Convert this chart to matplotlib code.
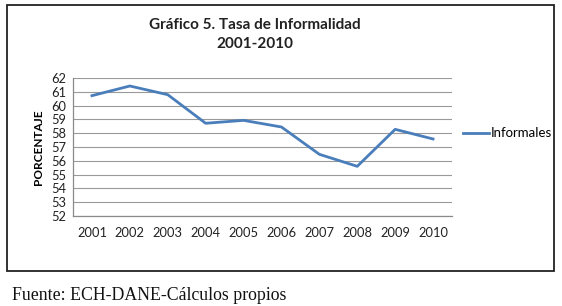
import matplotlib
matplotlib.use("Agg")
import matplotlib.pyplot as plt
from matplotlib.patches import Rectangle

years = ["2001", "2002", "2003", "2004", "2005", "2006", "2007", "2008", "2009", "2010"]
informales = [60.72, 61.42, 60.79, 58.72, 58.93, 58.45, 56.47, 55.60, 58.28, 57.58]
yticks = list(range(52, 63))

W, H = 562, 306
fig = plt.figure(figsize=(W / 100, H / 100), dpi=100)
fig.patch.set_facecolor("white")

# outer frame
fig.add_artist(Rectangle((7 / W, 1 - 271 / H), (554 - 7) / W, (271 - 5) / H,
                         transform=fig.transFigure, fill=False, edgecolor="#222222", lw=1.3))

ax = fig.add_axes([73 / W, 1 - 216 / H, (452 - 73) / W, (216 - 78) / H])
x = list(range(len(years)))
ax.plot(x, informales, color="#4a7ebb", lw=2.0, label="Informales")
ax.set_xlim(-0.5, len(years) - 0.5)
ax.set_ylim(52, 62)
ax.set_yticks(yticks)
ax.set_xticks(x)
ax.set_xticklabels(years)
ax.grid(axis="y", color="#9a9a9a", lw=0.8)
ax.set_axisbelow(True)
for s in ["top", "right"]:
    ax.spines[s].set_visible(False)
for s in ["left", "bottom"]:
    ax.spines[s].set_color("#8a8a8a")
    ax.spines[s].set_linewidth(0.9)
ax.tick_params(axis="both", length=0, labelsize=9.3, labelcolor="#222222", labelfontfamily="Lato")
ax.tick_params(axis="y", pad=5)
ax.tick_params(axis="x", pad=8)
ax.set_ylabel("PORCENTAJE", fontsize=8.5, fontweight="bold", family="Lato", labelpad=5)

leg = ax.legend(loc="center left", bbox_to_anchor=(1.0, 0.6), frameon=False,
                prop={"family": "Lato", "size": 9.5}, handlelength=2.0, handletextpad=0.15,
                borderaxespad=0.4)

fig.text(255 / W, 1 - 25 / H, "Gráfico 5. Tasa de Informalidad", ha="center", va="center",
         fontsize=11, fontweight="bold", family="Lato", color="#222222")
fig.text(255 / W, 1 - 44 / H, "2001-2010", ha="center", va="center",
         fontsize=11, fontweight="bold", family="Lato", color="#222222")

fig.text(12 / W, 1 - 295 / H, "Fuente: ECH-DANE-Cálculos propios", ha="left", va="center",
         fontsize=12.8, family="Liberation Serif", color="#111111")

fig.savefig("out.png", dpi=100)
